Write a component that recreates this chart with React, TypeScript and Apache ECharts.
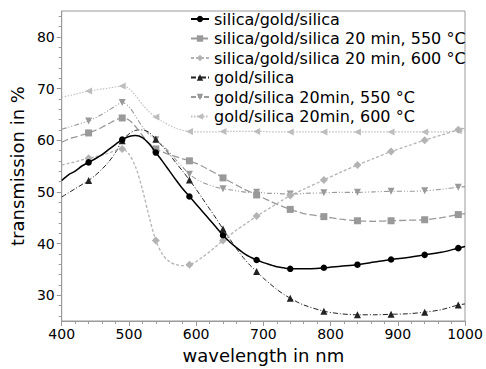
import React, { useEffect, useRef } from "react";
import * as echarts from "echarts";

// Wavelength grid (nm) shared by every spectrum
const wavelengths = [
  400, 410, 420, 430, 440, 450, 460, 470, 480, 490, 500, 510, 520, 530, 540, 550, 560, 570, 580, 590,
  600, 610, 620, 630, 640, 650, 660, 670, 680, 690, 700, 710, 720, 730, 740, 750, 760,
  790, 815, 840, 865, 890, 915, 940, 965, 990, 1000,
];

// Wavelengths at which a marker is drawn
const markerWavelengths = [440, 490, 540, 590, 640, 690, 740, 790, 840, 890, 940, 990];

// Transmission (%) per sample
const silicaGoldSilica = [
  52.2, 53.3, 54.0, 55.0, 55.7, 56.4, 57.2, 58.2, 59.2, 60.1, 60.7, 60.9, 60.5, 59.3, 57.6, 55.9, 54.1, 52.3, 50.6, 49.1,
  47.6, 46.1, 44.6, 43.1, 41.6, 40.3, 39.2, 38.2, 37.4, 36.8, 36.3, 35.9, 35.5, 35.3, 35.1, 35.1, 35.1,
  35.3, 35.6, 35.9, 36.4, 36.9, 37.3, 37.8, 38.3, 39.1, 39.4,
];
const silicaGoldSilica550 = [
  59.6, 60.2, 60.6, 61.0, 61.4, 61.9, 62.5, 63.2, 63.9, 64.3, 63.9, 62.6, 60.9, 59.4, 58.3, 57.7, 57.2, 56.8, 56.4, 56.0,
  55.5, 54.9, 54.2, 53.5, 52.7, 52.0, 51.3, 50.6, 50.0, 49.4, 48.8, 48.2, 47.6, 47.1, 46.6, 46.2, 45.8,
  45.2, 44.7, 44.4, 44.3, 44.4, 44.5, 44.6, 45.0, 45.6, 45.8,
];
const silicaGoldSilica600 = [
  55.2, 55.5, 55.8, 56.2, 56.5, 56.8, 57.1, 57.5, 58.0, 58.3, 57.3, 54.8, 50.5, 45.2, 40.6, 37.9, 36.5, 35.9, 35.7, 35.9,
  36.5, 37.4, 38.4, 39.5, 40.6, 41.6, 42.6, 43.5, 44.4, 45.3, 46.1, 46.9, 47.7, 48.5, 49.3, 49.9, 50.5,
  52.3, 53.8, 55.2, 56.5, 57.8, 58.9, 60.0, 61.0, 62.0, 62.3,
];
const goldSilica = [
  49.0, 49.8, 50.6, 51.4, 52.2, 53.2, 54.4, 55.8, 57.6, 59.9, 61.2, 61.9, 62.0, 61.5, 60.2, 58.8, 57.3, 55.6, 54.0, 52.3,
  50.5, 48.6, 46.7, 44.8, 42.8, 40.9, 39.0, 37.3, 35.8, 34.6, 33.3, 32.2, 31.1, 30.2, 29.4, 28.7, 28.1,
  26.9, 26.4, 26.2, 26.2, 26.3, 26.4, 26.7, 27.2, 28.1, 28.3,
];
const goldSilica550 = [
  62.1, 62.5, 62.9, 63.3, 63.7, 64.3, 65.0, 65.8, 66.6, 67.3, 66.5, 64.6, 62.6, 61.1, 60.1, 59.0, 57.7, 56.2, 54.8, 53.4,
  52.5, 51.8, 51.3, 50.9, 50.6, 50.4, 50.2, 50.0, 49.9, 49.9, 49.8, 49.7, 49.7, 49.6, 49.6, 49.6, 49.7,
  49.8, 49.9, 49.9, 50.0, 50.1, 50.1, 50.2, 50.5, 50.9, 51.0,
];
const goldSilica600 = [
  68.3, 68.6, 68.9, 69.2, 69.5, 69.7, 69.9, 70.1, 70.3, 70.5, 70.0, 68.6, 66.9, 65.5, 64.5, 63.6, 62.9, 62.3, 61.9, 61.7,
  61.6, 61.6, 61.6, 61.6, 61.7, 61.7, 61.7, 61.7, 61.7, 61.7, 61.7, 61.6, 61.6, 61.6, 61.6, 61.6, 61.6,
  61.6, 61.6, 61.6, 61.6, 61.6, 61.6, 61.6, 61.6, 61.8, 61.8,
];

const seriesNames = [
  "silica/gold/silica",
  "silica/gold/silica 20 min, 550 °C",
  "silica/gold/silica 20 min, 600 °C",
  "gold/silica",
  "gold/silica 20min, 550 °C",
  "gold/silica 20min, 600 °C",
];

const xTicks = [400, 500, 600, 700, 800, 900, 1000];
const yTicks = [30, 40, 50, 60, 70, 80];
const yMinorTicks = [26, 28, 32, 34, 36, 38, 42, 44, 46, 48, 52, 54, 56, 58, 62, 64, 66, 68, 72, 74, 76, 78, 82, 84];

const FONT = "DejaVu Sans";

function buildData(values: number[]) {
  const marks = new Set(markerWavelengths);
  return wavelengths.map((w, i) =>
    marks.has(w) ? { value: [w, values[i]] } : { value: [w, values[i]], symbol: "none" }
  );
}

export default function App() {
  const ref = useRef<HTMLDivElement>(null);

  useEffect(() => {
    if (!ref.current) return;
    const chart = echarts.init(ref.current, undefined, { renderer: "svg" });

    const styles = [
      { values: silicaGoldSilica, color: "#000000", width: 1.5, type: "solid", symbol: "circle", size: 6.5, rotate: 0 },
      { values: silicaGoldSilica550, color: "#999999", width: 1.3, type: [7, 3], symbol: "rect", size: 7, rotate: 0 },
      { values: silicaGoldSilica600, color: "#b3b3b3", width: 1.3, type: [3, 2], symbol: "diamond", size: 8, rotate: 0 },
      { values: goldSilica, color: "#222222", width: 1, type: [5, 2, 1, 2], symbol: "triangle", size: 7, rotate: 0 },
      { values: goldSilica550, color: "#9a9a9a", width: 1.1, type: [5, 2, 1, 2, 1, 2], symbol: "triangle", size: 7, rotate: 180 },
      { values: goldSilica600, color: "#bdbdbd", width: 1.1, type: [1.5, 1.5], symbol: "triangle", size: 7, rotate: 90 },
    ];

    chart.setOption({
      animation: false,
      backgroundColor: "#ffffff",
      grid: {
        left: 61,
        right: 21,
        top: 11,
        bottom: 47,
        show: true,
        borderColor: "#9a9a9a",
        borderWidth: 1,
        backgroundColor: "transparent",
      },
      legend: {
        orient: "vertical",
        left: 190,
        top: 11,
        padding: 0,
        itemWidth: 18,
        itemHeight: 8,
        itemGap: 3.5,
        data: seriesNames,
        textStyle: { fontFamily: FONT, fontSize: 16, color: "#000" },
      },
      xAxis: {
        type: "value",
        min: 400,
        max: 1000,
        interval: 100,
        name: "wavelength in nm",
        nameLocation: "middle",
        nameGap: 25,
        nameTextStyle: { fontFamily: FONT, fontSize: 18, color: "#000" },
        axisLine: { show: true, lineStyle: { color: "#9a9a9a" } },
        axisTick: { show: true, length: 5, lineStyle: { color: "#9a9a9a" }, customValues: xTicks },
        minorTick: { show: true, splitNumber: 5, length: 3, lineStyle: { color: "#9a9a9a" } },
        axisLabel: {
          fontFamily: FONT,
          fontSize: 14,
          color: "#000",
          margin: 6,
          customValues: xTicks,
          formatter: (v: number) => String(v),
        },
        splitLine: { show: false },
      },
      yAxis: [
        {
          type: "value",
          min: 25,
          max: 85,
          name: "transmission in %",
          nameLocation: "middle",
          nameGap: 33,
          nameTextStyle: { fontFamily: FONT, fontSize: 18, color: "#000" },
          axisLine: { show: true, lineStyle: { color: "#9a9a9a" } },
          axisTick: { show: true, length: 5, lineStyle: { color: "#9a9a9a" }, customValues: yTicks },
          axisLabel: {
            fontFamily: FONT,
            fontSize: 14,
            color: "#000",
            margin: 7,
            customValues: yTicks,
            formatter: (v: number) => String(v),
          },
          splitLine: { show: false },
        },
        {
          type: "value",
          min: 25,
          max: 85,
          position: "left",
          axisLine: { show: false },
          axisTick: { show: true, length: 3, lineStyle: { color: "#9a9a9a" }, customValues: yMinorTicks },
          axisLabel: { show: false },
          splitLine: { show: false },
        },
      ],
      series: styles.map((s, i) => ({
        name: seriesNames[i],
        type: "line",
        yAxisIndex: 0,
        smooth: 0.3,
        symbol: s.symbol,
        symbolSize: s.size,
        symbolRotate: s.rotate,
        showAllSymbol: true,
        data: buildData(s.values),
        lineStyle: { color: s.color, width: s.width, type: s.type },
        itemStyle: { color: s.color },
        emphasis: { disabled: true },
        z: 10 - i,
      })),
    });

    return () => chart.dispose();
  }, []);

  return (
    <div
      ref={ref}
      style={{ position: "fixed", left: 0, top: 0, width: 486, height: 369, background: "#fff" }}
    />
  );
}
